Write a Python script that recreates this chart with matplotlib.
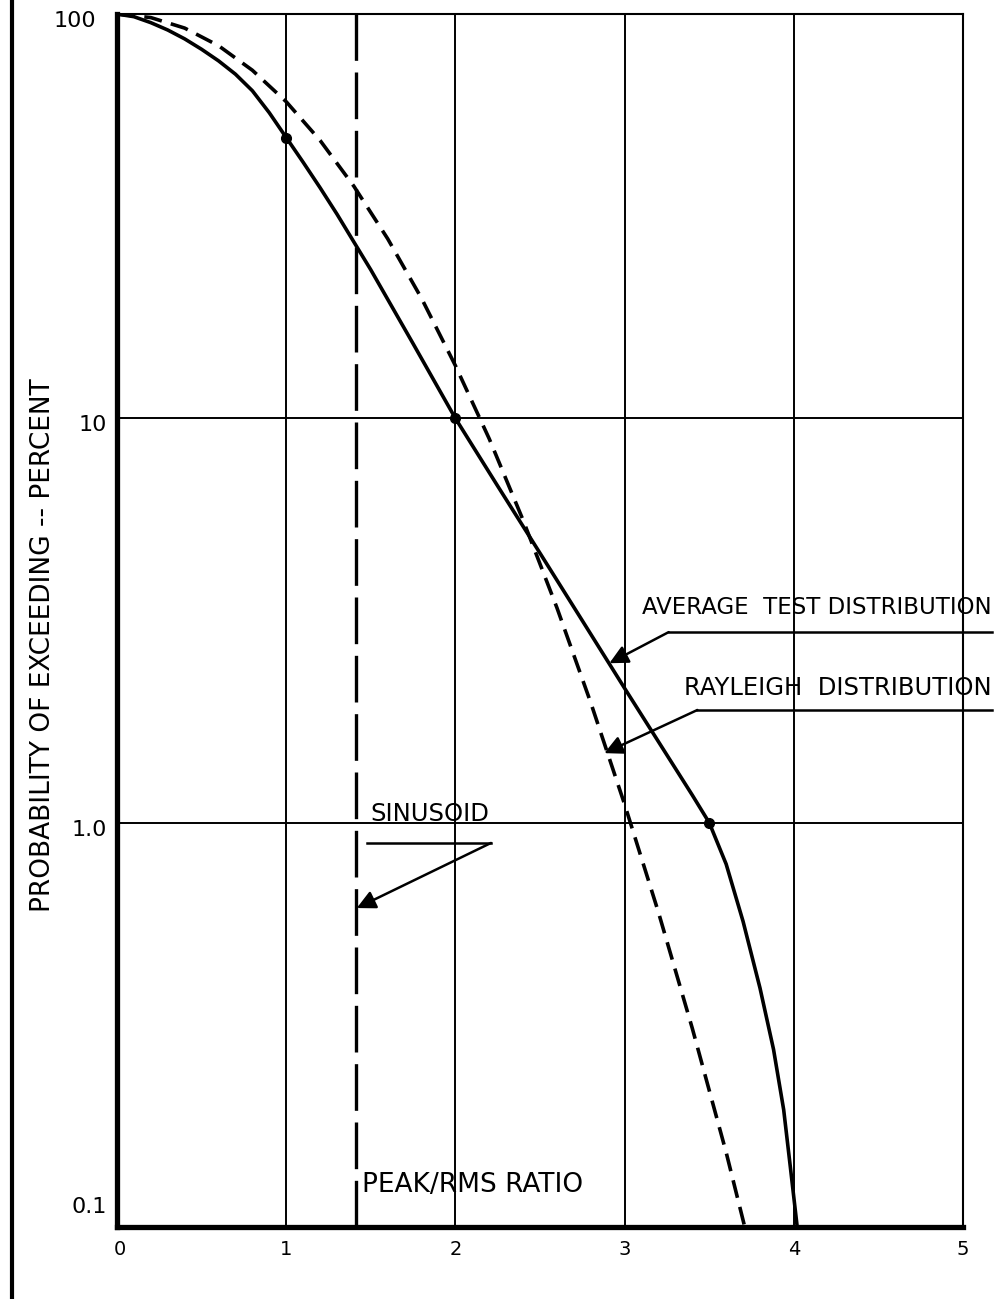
import matplotlib
matplotlib.use("Agg")
import matplotlib.pyplot as plt
from matplotlib.lines import Line2D
import matplotlib.transforms as mtransforms

# ---- data ----
avg_x = [0.0, 0.1, 0.2, 0.3, 0.4, 0.5, 0.6, 0.7, 0.8, 0.9, 1.0, 1.1, 1.2, 1.3, 1.4, 1.5,
         1.75, 2.0, 2.25, 2.5, 2.75, 3.0, 3.25, 3.4, 3.5, 3.6, 3.7, 3.8, 3.88, 3.94, 3.98, 4.02]
avg_y = [100, 98.5, 95.2, 91.3, 86.8, 81.8, 76.6, 71, 64.6, 57.0, 49.5, 43, 37.2, 32, 27.3, 23.3,
         15.3, 10.0, 6.8, 4.64, 3.16, 2.15, 1.47, 1.17, 1.0, 0.79, 0.57, 0.39, 0.275, 0.195, 0.14, 0.1]

ray_x = [0.0, 0.2, 0.4, 0.6, 0.8, 1.0, 1.2, 1.4, 1.6, 1.8, 2.0, 2.2, 2.4, 2.6, 2.8, 3.0,
         3.2, 3.4, 3.6, 3.71]
ray_y = [100, 98, 92.3, 83.5, 72.6, 60.7, 48.7, 37.5, 27.8, 19.8, 13.5, 8.9, 5.6, 3.4, 1.98,
         1.11, 0.6, 0.31, 0.153, 0.1]

avg_pts_x = [1.0, 2.0, 3.5]
avg_pts_y = [49.5, 10, 1.0]

sinusoid_x = 1.414

x_ticks = [0, 1, 2, 3, 4, 5]
x_tick_labels = ["0", "1", "2", "3", "4", "5"]
y_ticks = [0.1, 1, 10, 100]
y_tick_labels = ["0.1", "1.0", "10", "100"]

fig = plt.figure(figsize=(10.06, 12.99), dpi=100)
ax = fig.add_axes([0.1163, 0.0554, 0.841, 0.9338])
ax.set_yscale("log")
ax.set_xlim(0, 5)
ax.set_ylim(0.1, 100)

# grid
for gx in [1, 2, 3, 4]:
    ax.axvline(gx, color="black", lw=1.4, zorder=1)
for gy in [1, 10]:
    ax.axhline(gy, color="black", lw=1.4, zorder=1)

# curves
ax.plot(avg_x, avg_y, color="black", lw=2.6, zorder=3, solid_joinstyle="round")
ax.plot(avg_pts_x, avg_pts_y, "o", color="black", ms=7, zorder=4)
ax.plot(ray_x, ray_y, color="black", lw=2.6, dashes=(5, 2.6), zorder=3)
ax.axvline(sinusoid_x, color="black", lw=2.4, dashes=(14, 3.5), zorder=3)

# spines
for s in ["left", "bottom"]:
    ax.spines[s].set_linewidth(3.8)
for s in ["top", "right"]:
    ax.spines[s].set_linewidth(1.5)

ax.set_xticks(x_ticks)
ax.set_xticklabels(x_tick_labels, fontsize=14)
ax.set_yticks(y_ticks)
ax.set_yticklabels(y_tick_labels, fontsize=16)
ax.yaxis.set_minor_locator(matplotlib.ticker.NullLocator())
ax.tick_params(axis="both", length=0)
ax.tick_params(axis="x", pad=9)
ax.tick_params(axis="y", pad=7)
# nudge individual hand-lettered labels as in the reference
ylabs = ax.get_yticklabels()
ylabs[0].set_transform(ylabs[0].get_transform() + mtransforms.ScaledTranslation(0, 0.22, fig.dpi_scale_trans))
ylabs[3].set_transform(ylabs[3].get_transform() + mtransforms.ScaledTranslation(-0.11, -0.05, fig.dpi_scale_trans))
ylabs[2].set_transform(ylabs[2].get_transform() + mtransforms.ScaledTranslation(0, -0.05, fig.dpi_scale_trans))
ylabs[1].set_transform(ylabs[1].get_transform() + mtransforms.ScaledTranslation(0, -0.05, fig.dpi_scale_trans))
xl0 = ax.get_xticklabels()[0]
xl0.set_transform(xl0.get_transform() + mtransforms.ScaledTranslation(0.03, 0, fig.dpi_scale_trans))

ax.set_ylabel("PROBABILITY OF EXCEEDING -- PERCENT", fontsize=19)
ax.yaxis.set_label_coords(-0.072, 0.48)

# annotations
ax.text(5.17, 3.41, "AVERAGE  TEST DISTRIBUTION", ha="right", va="center", fontsize=16.5, clip_on=False)
ax.plot([3.26, 5.17], [2.96, 2.96], color="black", lw=1.8, clip_on=False)
ax.annotate("", xy=(2.91, 2.48), xytext=(3.26, 2.96),
            arrowprops=dict(arrowstyle="-|>", color="black", lw=1.8, mutation_scale=28,
                            shrinkA=0, shrinkB=0))

ax.text(5.17, 2.15, "RAYLEIGH  DISTRIBUTION", ha="right", va="center", fontsize=17.5, clip_on=False)
ax.plot([3.43, 5.17], [1.90, 1.90], color="black", lw=1.8, clip_on=False)
ax.annotate("", xy=(2.88, 1.486), xytext=(3.43, 1.90),
            arrowprops=dict(arrowstyle="-|>", color="black", lw=1.8, mutation_scale=28,
                            shrinkA=0, shrinkB=0))

ax.text(1.50, 1.05, "SINUSOID", ha="left", va="center", fontsize=17.5)
ax.plot([1.48, 2.21], [0.891, 0.891], color="black", lw=1.8)
ax.annotate("", xy=(1.417, 0.615), xytext=(2.21, 0.891),
            arrowprops=dict(arrowstyle="-|>", color="black", lw=1.8, mutation_scale=28,
                            shrinkA=0, shrinkB=0))

ax.text(1.446, 0.127, "PEAK/RMS RATIO", ha="left", va="center", fontsize=19)

# left page border line
fig.add_artist(Line2D([12 / 1006, 12 / 1006], [0, 1], color="black", lw=3, transform=fig.transFigure))

fig.savefig("out.png", dpi=100)
